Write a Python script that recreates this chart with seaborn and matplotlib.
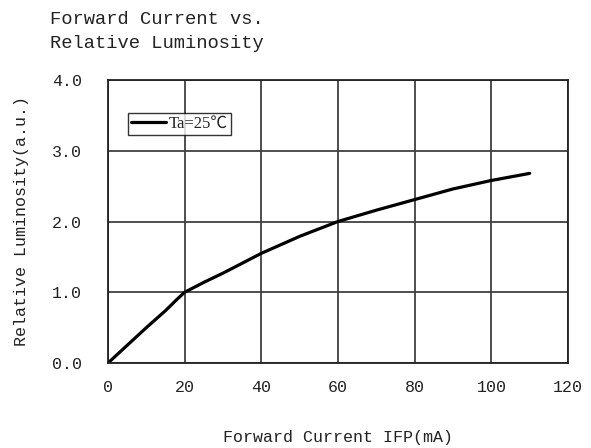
import matplotlib
matplotlib.use("Agg")
import matplotlib.pyplot as plt
import seaborn as sns
import pandas as pd

current_ma = [0, 5, 10, 15, 18, 20, 25, 30, 40, 50, 60, 70, 80, 90, 100, 110]
luminosity = [0, 0.25, 0.5, 0.74, 0.9, 1.0, 1.14, 1.27, 1.55, 1.79, 2.0, 2.16, 2.31, 2.46, 2.58, 2.68]
series_label = "Ta=25℃"
x_ticks = [0, 20, 40, 60, 80, 100, 120]
y_ticks = [0.0, 1.0, 2.0, 3.0, 4.0]

df = pd.DataFrame({"I": current_ma, "L": luminosity, "s": series_label})

sns.set_style("white")
plt.rcParams["font.family"] = ["Liberation Mono", "Noto Sans CJK SC", "DejaVu Sans"]

fig = plt.figure(figsize=(5.91, 4.48), dpi=100)
ax = fig.add_axes([108/591, 1-363/448, 460/591, 283/448])

sns.lineplot(data=df, x="I", y="L", hue="s", palette=["black"], linewidth=2.3, ax=ax)

ax.set_xlim(0, 120)
ax.set_ylim(0, 4)
ax.set_xticks(x_ticks)
ax.set_xticklabels([str(t) for t in x_ticks])
ax.set_yticks(y_ticks)
ax.set_yticklabels([f"{t:.1f}" for t in y_ticks])
ax.tick_params(axis="both", length=0, labelsize=12, colors="#222222")
ax.tick_params(axis="y", pad=18.5)
ax.tick_params(axis="x", pad=12)
ax.grid(True, color="#404040", linewidth=1.3)
for sp in ax.spines.values():
    sp.set_color("#222222")
    sp.set_linewidth(1.3)

ax.set_xlabel("Forward Current IFP(mA)", fontsize=12, labelpad=25.5, color="#222222")
ax.set_ylabel("Relative Luminosity(a.u.)", fontsize=12, labelpad=16.5, color="#222222")

leg = ax.legend(loc="upper left", bbox_to_anchor=(0.043, 0.885), frameon=True,
                fancybox=False, edgecolor="black", handlelength=2.1,
                handletextpad=0.15, borderpad=0.2, borderaxespad=0,
                prop={"family": ["Liberation Serif", "Noto Sans CJK SC"], "size": 12})
leg.get_frame().set_linewidth(1.0)

fig.text(50/591, 1-11/448, "Forward Current vs.\nRelative Luminosity",
         fontsize=13.5, va="top", ha="left", linespacing=1.55, color="#222222")

fig.savefig("out.png", dpi=100)
